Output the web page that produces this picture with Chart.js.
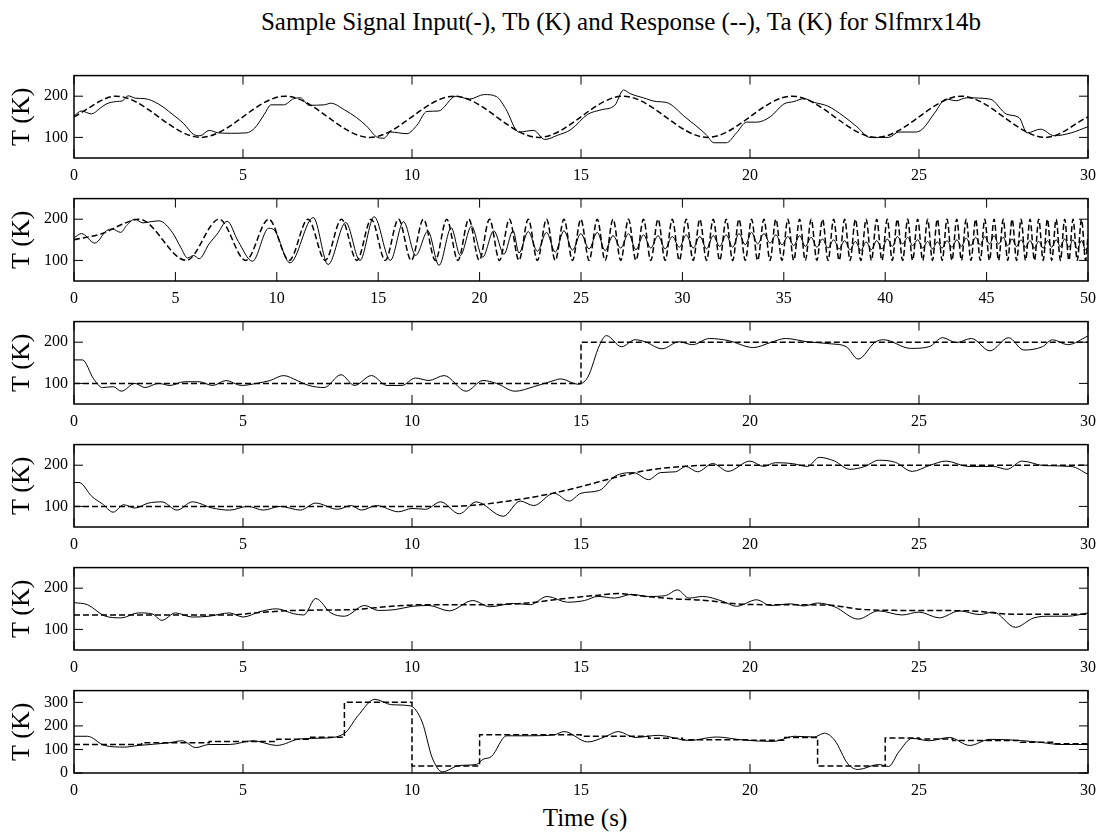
<!DOCTYPE html>
<html>
<head>
<meta charset="utf-8">
<script src="https://cdn.jsdelivr.net/npm/chart.js@4.4.1/dist/chart.umd.min.js"></script>
<style>
  body { margin: 0; background: #fff; width: 1104px; height: 834px; position: relative; overflow: hidden;
         font-family: 'Liberation Serif', 'Times New Roman', serif; color: #000; }
  .panel { position: absolute; left: 0; width: 1104px; height: 122px; }
  #title { position: absolute; top: 9px; left: 621px; transform: translateX(-50%); white-space: nowrap;
           font-size: 25px; line-height: 26px; }
  #xlabel { position: absolute; top: 804px; left: 585px; transform: translateX(-50%); white-space: nowrap;
            font-size: 25px; line-height: 28px; }
</style>
</head>
<body>
<div id="title">Sample Signal Input(-), Tb (K) and Response (--), Ta (K) for Slfmrx14b</div>
<div class="panel" style="top:60px"><canvas id="p1" width="1104" height="122"></canvas></div>
<div class="panel" style="top:183px"><canvas id="p2" width="1104" height="122"></canvas></div>
<div class="panel" style="top:306px"><canvas id="p3" width="1104" height="122"></canvas></div>
<div class="panel" style="top:429px"><canvas id="p4" width="1104" height="122"></canvas></div>
<div class="panel" style="top:552px"><canvas id="p5" width="1104" height="122"></canvas></div>
<div class="panel" style="top:675px"><canvas id="p6" width="1104" height="122"></canvas></div>
<div id="xlabel">Time (s)</div>
<script>
// tick labels
const xTicks30 = [0, 5, 10, 15, 20, 25, 30];
const xTicks50 = [0, 5, 10, 15, 20, 25, 30, 35, 40, 45, 50];
const yTicks = [100, 200];
const yTicks6 = [0, 100, 200, 300];

// solid line = Tb, dashed line = Ta (as in the title)

// panel 1 - sine
const ta1Time = [0, 1.25, 3.75, 6.25, 8.75, 11.25, 13.75, 16.25, 18.75, 21.25, 23.75, 26.25, 28.75, 30];
const ta1 = [150, 200, 100, 200, 100, 200, 100, 200, 100, 200, 100, 200, 100, 150];
const tb1Time = [0,0.22,0.52,0.76,0.95,1.25,1.44,1.6,1.83,2.1, 2.5,2.9,3.25,3.54,3.73,4.0,4.27,4.66,5.1,5.34,
  5.63,5.83,6.2,6.5,6.7,6.95,7.4,7.6,8.0,8.36, 8.65,8.98,9.17,9.37,9.85,10.15,10.44,10.78,11.3,11.7,
  12.14,12.5,12.77,13.16,13.6,13.93,14.3,14.7,15.2,15.6, 16.0,16.26,16.46,16.85,17.23,17.52,18.1,18.7,18.93,19.3,
  19.6,19.9,20.2,20.6,21.0,21.3,21.6,21.9,22.3,22.76, 23.16,23.55,24.1,24.4,24.9,25.1,25.46,25.8,26.1,26.4,
  27.1,27.6,27.96,28.2,28.6,29.0,29.5,30];
const tb1 = [152,164,157,170,181,187,189,201,195,194, 181,157,133,107,104,117,111,110,111,122,
  156,179,179,194,196,178,179,183,167,148, 128,100,98,113,109,130,163,164,200,193,
  204,199,170,113,117,95,105,119,156,167, 178,215,206,196,187,185,148,107,87,87,
  111,137,137,150,181,187,194,185,176,152, 126,100,100,113,113,120,159,193,189,196,
  193,156,148,111,120,104,111,126];

// panel 2 - chirp (peaks and troughs)
const ta2Time = [0,1.5,2.3,3.2,
  5.54,7.16,8.47,9.6,10.61,11.54,12.39,13.19,13.95,14.66,
  15.35,16.0,16.63,17.23,17.82,18.38,18.93,19.47,19.98,20.49,
  20.98,21.47,21.94,22.4,22.85,23.3,23.73,24.16,24.58,24.99,
  25.4,25.8,26.19,26.58,26.96,27.34,27.71,28.08,28.44,28.8,
  29.15,29.5,29.85,30.19,30.53,30.86,31.19,31.52,31.84,32.16,
  32.48,32.79,33.1,33.41,33.71,34.02,34.32,34.61,34.91,35.2,
  35.49,35.78,36.06,36.35,36.63,36.91,37.18,37.46,37.73,38.0,
  38.27,38.53,38.8,39.06,39.32,39.58,39.84,40.1,40.35,40.6,
  40.86,41.11,41.35,41.6,41.85,42.09,42.33,42.57,42.81,43.05,
  43.29,43.53,43.76,43.99,44.23,44.46,44.69,44.91,45.14,45.37,
  45.59,45.82,46.04,46.26,46.48,46.7,46.92,47.14,47.36,47.57,
  47.79,48.0,48.21,48.43,48.64,48.85,49.06,49.26,49.47,49.68,
  49.88,50];
const ta2 = [150,167,186,200,
  100,200,100,200,100,200,100,200,100,200,
  100,200,100,200,100,200,100,200,100,200,
  100,200,100,200,100,200,100,200,100,200,
  100,200,100,200,100,200,100,200,100,200,
  100,200,100,200,100,200,100,200,100,200,
  100,200,100,200,100,200,100,200,100,200,
  100,200,100,200,100,200,100,200,100,200,
  100,200,100,200,100,200,100,200,100,200,
  100,200,100,200,100,200,100,200,100,200,
  100,200,100,200,100,200,100,200,100,200,
  100,200,100,200,100,200,100,200,100,200,
  100,200,100,200,100,200,100,200,100,200,
  100,161];
const tb2Time = [0,0.37,1.03,1.6,1.9,2.3,2.6,3.0,3.4,3.8,
  4.2,4.86,5.27,5.6,5.9,6.17,6.66,7.06,7.55,8.1,
  8.8,9.6,9.9,10.65,11.8,12.53,13.4,14.1,14.8,15.6,
  16.25,16.85,17.45,18.0,18.6,19.05,19.6,20.15,20.7,21.2,
  21.65,
  21.94,22.4,22.85,23.3,23.73,24.16,24.58,24.99,
  25.4,25.8,26.19,26.58,26.96,27.34,27.71,28.08,28.44,28.8,
  29.15,29.5,29.85,30.19,30.53,30.86,31.19,31.52,31.84,32.16,
  32.48,32.79,33.1,33.41,33.71,34.02,34.32,34.61,34.91,35.2,
  35.49,35.78,36.06,36.35,36.63,36.91,37.18,37.46,37.73,38.0,
  38.27,38.53,38.8,39.06,39.32,39.58,39.84,40.1,40.35,40.6,
  40.86,41.11,41.35,41.6,41.85,42.09,42.33,42.57,42.81,43.05,
  43.29,43.53,43.76,43.99,44.23,44.46,44.69,44.91,45.14,45.37,
  45.59,45.82,46.04,46.26,46.48,46.7,46.92,47.14,47.36,47.57,
  47.79,48.0,48.21,48.43,48.64,48.85,49.06,49.26,49.47,49.68,
  49.88,50];
const tb2 = [155,165,142,172,176,168,185,200,191,194,
  196,167,131,106,112,104,140,164,195,146,
  98,178,172,94,204,90,192,100,206,100,
  194,112,171,88,179,112,183,108,172,115,
  172,
  118,170,122,168,120,172,125,165,
  128,168,124,160,130,165,126,162,130,160,
  128,158,132,162,130,158,128,160,134,162,
  132,165,138,168,140,165,142,162,138,158,
  136,160,134,156,132,152,130,150,128,148,
  126,146,124,145,126,148,128,152,134,158,
  140,156,136,150,130,146,128,145,130,148,
  132,150,134,154,136,156,138,158,140,160,
  140,156,136,152,134,150,132,148,130,146,
  130,148,132,150,134,152,132,150,128,148,
  126,135];

// panel 3 - step
const ta3Time = [0, 15, 30];
const ta3 = [100, 200, 200];
const tb3Time = [0,0.25,0.58,0.84,1.16,1.4,1.8,2.1,2.5,2.84, 3.26,3.7,4.1,4.5,4.95,5.4,5.8,6.2,6.6,6.95,
  7.4,7.9,8.3,8.8,9.26,9.7,10.1,10.5,10.95,11.6, 12.1,12.5,13.05,13.6,14.2,14.4,14.9,15.2,15.55,15.75,
  16.2,16.6,16.9,17.4,17.9,18.3,18.8,19.35,20.1,20.6, 21.05,21.7,22.4,22.85,23.2,23.7,23.95,24.75,25.3,25.7,
  26.1,26.55,27.1,27.65,28.1,28.65,28.95,29.4,30];
const tb3 = [157,157,111,90,92,81,100,90,100,95, 104,104,95,107,95,100,107,119,107,95,
  90,121,95,119,95,95,113,107,119,81, 107,100,81,92,107,111,98,115,193,216,
  189,206,201,184,201,194,209,204,187,199, 209,201,196,189,159,200,206,185,189,211,
  199,209,179,211,181,189,206,194,215];

// panel 4 - smooth ramp
const ta4Time = [0, 11, 12, 13, 14, 15, 16, 17, 18, 19, 30];
const ta4 = [100, 100, 104, 115, 129, 148, 170, 188, 197, 200, 200];
const tb4Time = [0,0.15,0.53,0.84,1.16,1.47,1.8,2.2,2.6,3.05, 3.5,4.1,4.6,5.15,5.6,6.1,6.7,7.15,7.8,8.2,
  8.5,8.95,9.6,10.0,10.4,10.85,11.4,11.9,12.7,13.2, 13.6,14.2,14.65,15.0,15.55,16.0,16.55,17.0,17.35,17.8,
  18.1,18.45,18.9,19.35,20.0,20.4,20.75,21.25,21.7,22.05, 22.5,22.95,23.4,23.8,24.3,24.8,25.3,25.8,26.45,27.2,
  27.6,28.05,28.7,29.5,30];
const tb4 = [158,158,124,106,86,104,96,108,111,91, 111,96,91,100,91,100,91,108,93,102,
  91,102,87,95,93,111,82,111,76,113, 102,132,113,132,139,173,182,165,182,184,
  197,184,204,185,210,197,206,204,197,219, 210,190,197,212,207,185,199,210,197,197,
  190,210,199,197,178];

// panel 5 - slow wave
const ta5Time = [0,4.6,5.5,6.5,8.2,9.4,10.3,12.3,13.4,14.4,15.5,16.1,16.9,17.8,18.6,19.6,20.7,22.3,23.4,24.8,26.5,27.75,30];
const ta5 = [135,135,141,146,148,156,160,160,164,174,183,187,180,174,171,162,160,159,148,146,145,137,137];
const tb5Time = [0,0.4,0.9,1.4,1.9,2.3,2.6,3.0,3.5,4.0, 4.6,5.0,5.5,6.0,6.5,6.8,7.15,7.6,8.0,8.6,
  9.0,9.5,10.0,10.5,11.1,11.8,12.3,13.0,13.5,14.0, 14.6,15.1,15.5,16.0,16.5,17.0,17.5,17.85,18.2,18.6,
  19.2,19.6,20.2,20.6,21.2,21.6,22.0,22.5,23.2,23.8, 24.5,25.0,25.6,26.2,26.8,27.2,27.85,28.4,28.9,29.4, 30];
const tb5 = [165,160,133,128,140,138,122,140,130,132, 140,130,143,150,138,135,175,140,132,158,
  146,148,156,158,145,170,155,163,160,180, 166,170,180,176,185,180,182,196,176,180,
  168,156,172,158,162,157,164,155,125,145, 135,142,128,145,136,142,105,128,132,132, 140];

// panel 6 - staircase
const ta6Time = [0,2,4,6,7,8,10,12,15,17,18,20,21,22,24,25,26,28,29,30];
const ta6 = [121,128,134,143,152,300,30,162,156,148,141,139,151,30,149,144,138,131,124,124];
const tb6Time = [0,0.4,0.9,1.5,1.9,2.8,3.2,3.6,4.0,4.6, 5.3,6.0,6.7,7.35,8.0,8.4,8.9,9.4,9.95,10.3,
  10.6,10.9,11.4,11.9,12.1,12.35,12.8,13.4,14.2,14.5, 15.2,15.7,16.1,16.6,17.3,18.2,19.0,19.8,20.7,21.3,
  21.9,22.2,22.5,22.9,23.2,23.8,24.1,24.4,24.8,25.3, 25.9,26.5,27.1,28.0,28.6,29.2,30];
const tb6 = [156,156,117,110,117,128,137,108,121,121, 137,117,145,148,168,243,313,290,285,217,
  64,5,32,36,58,70,158,158,162,176, 132,153,176,151,160,138,153,140,134,156,
  153,169,140,38,15,36,28,89,147,137, 151,117,143,138,130,121,121];

const SERIF = "'Liberation Serif', 'Times New Roman', serif";
Chart.defaults.font.family = SERIF;
Chart.defaults.color = '#000';

// box + inward ticks like the original figure
const framePlugin = {
  id: 'frame',
  afterDatasetsDraw(chart) {
    const { ctx, chartArea: a, scales: { x, y } } = chart;
    ctx.save();
    ctx.strokeStyle = '#000';
    ctx.lineWidth = 1;
    ctx.beginPath();
    x.ticks.forEach(t => {
      const px = x.getPixelForValue(t.value);
      ctx.moveTo(px, a.top); ctx.lineTo(px, a.top + 9);
      ctx.moveTo(px, a.bottom); ctx.lineTo(px, a.bottom - 9);
    });
    y.ticks.forEach(t => {
      const py = y.getPixelForValue(t.value);
      ctx.moveTo(a.left, py); ctx.lineTo(a.left + 9, py);
      ctx.moveTo(a.right, py); ctx.lineTo(a.right - 9, py);
    });
    ctx.stroke();
    ctx.lineWidth = 1.5;
    ctx.strokeRect(a.left, a.top, a.right - a.left, a.bottom - a.top);
    ctx.restore();
  }
};

function pts(xs, ys) {
  return xs.map((x, i) => ({ x: x, y: ys[i] }));
}

function solidLine(xs, ys) {
  return { data: pts(xs, ys), borderColor: '#000', borderWidth: 1, pointRadius: 0,
           cubicInterpolationMode: 'monotone', order: 2 };
}

function dashedLine(xs, ys, stepped) {
  return { data: pts(xs, ys), borderColor: '#000', borderWidth: 1.5, borderDash: [6, 3], pointRadius: 0,
           cubicInterpolationMode: 'monotone', stepped: stepped || false, order: 1 };
}

function panel(id, xTicks, yMin, yMax, yt, datasets) {
  return new Chart(document.getElementById(id), {
    type: 'line',
    data: { datasets: datasets },
    options: {
      responsive: false,
      animation: false,
      events: [],
      layout: { padding: { top: 6, right: 8, left: 0, bottom: 0 } },
      plugins: { legend: { display: false }, tooltip: { enabled: false } },
      scales: {
        x: {
          type: 'linear',
          min: xTicks[0],
          max: xTicks[xTicks.length - 1],
          afterBuildTicks: s => { s.ticks = xTicks.map(v => ({ value: v })); },
          ticks: { autoSkip: false, maxRotation: 0, padding: 8, font: { family: SERIF, size: 16 } },
          grid: { display: false, drawTicks: false },
          border: { display: false },
          afterFit: s => { s.height = 24; }
        },
        y: {
          type: 'linear',
          min: yMin,
          max: yMax,
          afterBuildTicks: s => { s.ticks = yt.map(v => ({ value: v })); },
          ticks: { padding: 6, font: { family: SERIF, size: 16 } },
          grid: { display: false, drawTicks: false },
          border: { display: false },
          title: { display: true, text: 'T (K)', font: { family: SERIF, size: 26 }, padding: { top: 7, bottom: 0 } },
          afterFit: s => { s.width = 74; }
        }
      }
    },
    plugins: [framePlugin]
  });
}

function drawAll() {
  panel('p1', xTicks30, 50, 250, yTicks, [solidLine(tb1Time, tb1), dashedLine(ta1Time, ta1)]);
  panel('p2', xTicks50, 50, 250, yTicks, [solidLine(tb2Time, tb2), dashedLine(ta2Time, ta2)]);
  panel('p3', xTicks30, 50, 250, yTicks, [solidLine(tb3Time, tb3), dashedLine(ta3Time, ta3, true)]);
  panel('p4', xTicks30, 50, 250, yTicks, [solidLine(tb4Time, tb4), dashedLine(ta4Time, ta4)]);
  panel('p5', xTicks30, 50, 250, yTicks, [solidLine(tb5Time, tb5), dashedLine(ta5Time, ta5)]);
  panel('p6', xTicks30, 0, 350, yTicks6, [solidLine(tb6Time, tb6), dashedLine(ta6Time, ta6, true)]);
}

document.fonts.load("16px 'Liberation Serif'").then(drawAll, drawAll);
</script>
</body>
</html>
